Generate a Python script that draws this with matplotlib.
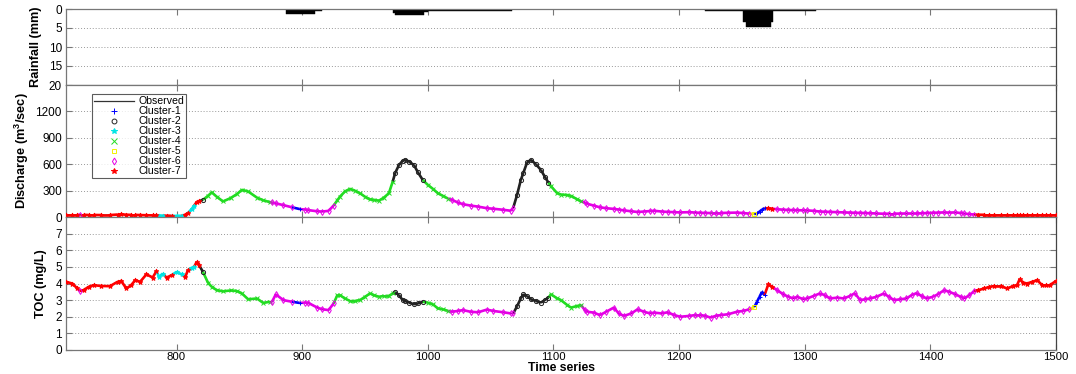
import matplotlib
matplotlib.use("Agg")
import matplotlib.pyplot as plt
from matplotlib.lines import Line2D
from matplotlib.collections import LineCollection
import numpy as np

plt.rcParams['font.family'] = ['Liberation Sans', 'DejaVu Sans']
plt.rcParams['mathtext.default'] = 'regular'

# ---------------- data ----------------
# rainfall blocks (start time, end time, depth mm)
rain_start = [887, 910, 972, 974, 997, 1000, 1221, 1251, 1253, 1273, 1275]
rain_end   = [910, 916, 974, 997, 1000, 1067, 1251, 1253, 1273, 1275, 1309]
rain_depth = [1.3, 0.4, 1.0, 1.7, 0.8, 0.4, 0.4, 3.5, 4.7, 3.5, 0.4]

time = [712, 717, 721, 723, 726, 730, 734, 740, 747, 753, 756, 760, 764, 767, 771, 776, 781, 784,
        786, 789, 792, 796, 800, 804, 807, 809, 812, 814, 816, 818, 821, 825, 828, 832, 837, 843,
        848, 852, 857, 864, 869, 874, 876, 879, 885, 892, 898, 902, 905, 912, 916, 921, 925, 928,
        930, 934, 938, 942, 946, 950, 954, 957, 961, 965, 969, 972, 974, 977, 980, 982, 985, 989,
        992, 996, 1000, 1004, 1008, 1012, 1016, 1019, 1024, 1028, 1034, 1040, 1047, 1052, 1060,
        1066, 1068, 1071, 1074, 1076, 1079, 1082, 1086, 1090, 1093, 1096, 1098, 1103, 1106, 1111,
        1114, 1119, 1122, 1125, 1127, 1132, 1137, 1142, 1148, 1152, 1156, 1162, 1167, 1172, 1177,
        1180, 1186, 1191, 1196, 1201, 1208, 1213, 1217, 1221, 1225, 1229, 1233, 1239, 1246, 1251,
        1256, 1260, 1262, 1264, 1266, 1268, 1271, 1274, 1278, 1283, 1287, 1291, 1294, 1299, 1302,
        1307, 1312, 1316, 1320, 1326, 1331, 1336, 1340, 1344, 1348, 1352, 1357, 1363, 1367, 1371,
        1376, 1381, 1385, 1389, 1393, 1397, 1402, 1406, 1411, 1415, 1420, 1424, 1427, 1431, 1435,
        1438, 1443, 1447, 1451, 1456, 1461, 1466, 1469, 1471, 1474, 1477, 1481, 1485, 1489, 1492,
        1495, 1500]

discharge = [25, 25, 25, 24, 24, 23, 23, 22, 22, 28, 30, 26, 24, 24, 22, 20, 18, 18,
             17, 16, 15, 14, 12, 15, 25, 45, 90, 130, 170, 180, 195, 240, 280, 230, 177, 215,
             260, 309, 290, 220, 190, 170, 165, 155, 135, 110, 90, 85, 78, 65, 62, 70, 130, 190,
             230, 290, 320, 300, 270, 230, 200, 195, 185, 220, 270, 400, 500, 590, 640, 650, 630, 590,
             510, 420, 365, 320, 270, 240, 210, 195, 165, 145, 130, 118, 100, 94, 82,
             71, 105, 250, 420, 500, 620, 650, 600, 535, 460, 390, 350, 270, 255, 250,
             240, 200, 177, 165, 150, 130, 110, 100, 92, 85, 75, 65, 57, 62, 68,
             71, 62, 58, 55, 52, 55, 50, 48, 46, 45, 45, 45, 48, 50, 45,
             38, 34, 40, 60, 85, 100, 98, 95, 88, 83, 80, 78, 77, 76, 75,
             70, 62, 60, 58, 55, 52, 50, 48, 47, 45, 43, 40, 37, 38, 38,
             39, 40, 40, 40, 42, 45, 48, 50, 52, 50, 52, 45, 40, 32, 28,
             26, 25, 25, 25, 25, 25, 25, 25, 25, 25, 25, 25, 25, 25, 25,
             25, 25]

toc = [4.1, 4.0, 3.7, 3.55, 3.6, 3.8, 3.9, 3.85, 3.84, 4.1, 4.15, 3.7, 3.9, 4.2, 4.1, 4.55, 4.36, 4.75,
       4.4, 4.6, 4.35, 4.5, 4.7, 4.55, 4.4, 4.8, 4.95, 5.0, 5.3, 5.1, 4.7, 4.05, 3.8, 3.6, 3.53, 3.58,
       3.55, 3.4, 3.05, 3.1, 2.83, 2.9, 2.9, 3.35, 3.0, 2.9, 2.83, 2.85, 2.83, 2.55, 2.45, 2.4, 2.8, 3.3,
       3.3, 3.1, 2.95, 2.95, 3.0, 3.2, 3.4, 3.3, 3.2, 3.25, 3.25, 3.4, 3.48, 3.3, 3.0, 2.95, 2.85, 2.75,
       2.8, 2.9, 2.85, 2.75, 2.5, 2.45, 2.35, 2.3, 2.35, 2.4, 2.3, 2.27, 2.43, 2.35, 2.27,
       2.2, 2.2, 2.63, 3.1, 3.35, 3.25, 3.05, 2.95, 2.85, 3.0, 3.15, 3.35, 3.1, 3.0, 2.7,
       2.55, 2.65, 2.7, 2.4, 2.3, 2.25, 2.1, 2.3, 2.55, 2.2, 2.05, 2.2, 2.45, 2.3, 2.2,
       2.25, 2.2, 2.27, 2.1, 2.0, 2.05, 2.1, 2.1, 2.05, 1.95, 2.05, 2.1, 2.15, 2.3, 2.35,
       2.45, 2.6, 2.9, 3.2, 3.5, 3.3, 3.95, 3.8, 3.6, 3.35, 3.2, 3.1, 3.2, 3.05, 3.1,
       3.25, 3.4, 3.3, 3.1, 3.15, 3.1, 3.25, 3.42, 3.0, 3.05, 3.1, 3.2, 3.4, 3.2, 3.0,
       3.05, 3.1, 3.3, 3.42, 3.25, 3.1, 3.2, 3.35, 3.6, 3.5, 3.35, 3.2, 3.1, 3.3, 3.55,
       3.6, 3.7, 3.8, 3.85, 3.85, 3.7, 3.85, 3.9, 4.25, 4.05, 4.0, 4.1, 4.2, 3.9, 3.9,
       3.9, 4.15]

cluster = [7, 7, 7, 6, 7, 7, 7, 7, 7, 7, 7, 7, 7, 7, 7, 7, 7, 7,
           3, 3, 7, 7, 3, 3, 7, 7, 3, 3, 7, 7, 2, 4, 4, 4, 4, 4,
           4, 4, 4, 4, 4, 4, 6, 6, 6, 6, 1, 6, 6, 6, 6, 6, 6, 4,
           4, 4, 4, 4, 4, 4, 4, 4, 4, 4, 4, 4, 2, 2, 2, 2, 2, 2,
           2, 2, 4, 4, 4, 4, 4, 6, 6, 6, 6, 6, 6, 6, 6,
           6, 6, 2, 2, 2, 2, 2, 2, 2, 2, 2, 4, 4, 4, 4,
           4, 4, 4, 6, 6, 6, 6, 6, 6, 6, 6, 6, 6, 6, 6,
           6, 6, 6, 6, 6, 6, 6, 6, 6, 6, 6, 6, 6, 6, 6,
           6, 5, 1, 1, 1, 1, 7, 7, 6, 6, 6, 6, 6, 6, 6,
           6, 6, 6, 6, 6, 6, 6, 6, 6, 6, 6, 6, 6, 6, 6,
           6, 6, 6, 6, 6, 6, 6, 6, 6, 6, 6, 6, 6, 6, 6,
           7, 7, 7, 7, 7, 7, 7, 7, 7, 7, 7, 7, 7, 7, 7,
           7, 7]

cluster_names = ['Cluster-1', 'Cluster-2', 'Cluster-3', 'Cluster-4', 'Cluster-5', 'Cluster-6', 'Cluster-7']

# ---------------- styles ----------------
cl_color = {1: '#0000ff', 2: '#222222', 3: '#00e5e5', 4: '#22dd22', 5: '#f2f200', 6: '#e600e6', 7: '#ff0000'}
cl_marker = {1: '+', 2: 'o', 3: '*', 4: 'x', 5: 's', 6: 'd', 7: '*'}

t = np.array(time, dtype=float)
Q = np.array(discharge, dtype=float)
C = np.array(toc, dtype=float)
K = np.array(cluster)

W, H = 1076, 374
fig = plt.figure(figsize=(W / 100, H / 100), dpi=100)
left, right = 66 / W, 1056 / W
def rect(top_px, bot_px):
    return [left, 1 - bot_px / H, right - left, (bot_px - top_px) / H]

ax_r = fig.add_axes(rect(9, 85))
ax_q = fig.add_axes(rect(85, 217))
ax_c = fig.add_axes(rect(217, 350))

spine_col = '#777777'
for ax in (ax_r, ax_q, ax_c):
    ax.set_xlim(712, 1500)
    ax.set_xticks([800, 900, 1000, 1100, 1200, 1300, 1400, 1500])
    ax.tick_params(direction='in', top=True, right=True, length=4, width=0.8,
                   color=spine_col, labelsize=8.5, pad=3)
    for s in ax.spines.values():
        s.set_color(spine_col)
        s.set_linewidth(0.9)
    ax.spines['right'].set_color('#444444')
    ax.yaxis.grid(True, linestyle=(0, (1, 2)), color='#999999', linewidth=0.7)
    ax.set_axisbelow(True)
ax_r.tick_params(labelbottom=False)
ax_q.tick_params(labelbottom=False)
ax_c.tick_params(axis='x', pad=1.5, labelsize=8.2)

# rainfall
widths = [e - s for s, e in zip(rain_start, rain_end)]
ax_r.bar(rain_start, rain_depth, width=widths, align='edge', color='black', edgecolor='black', linewidth=0.3)
ax_r.set_ylim(20, 0)
ax_r.set_yticks([0, 5, 10, 15, 20])

lab_font = dict(fontweight='bold', fontsize=9.2)
ax_r.set_ylabel('Rainfall (mm)', **lab_font, labelpad=5)


def draw_series(ax, y):
    ax.plot(t, y, color='#111111', lw=0.8, zorder=2)
    segs, cols = [], []
    for i in range(len(t) - 1):
        segs.append([(t[i], y[i]), (t[i + 1], y[i + 1])])
        cols.append(cl_color[K[i + 1]])
    ax.add_collection(LineCollection(segs, colors=cols, linewidths=1.9, zorder=3))
    for k in range(1, 8):
        m = K == k
        mk = cl_marker[k]
        if mk in ('o', 's', 'd'):
            ax.plot(t[m], y[m], linestyle='none', marker=mk, markersize=3,
                    markerfacecolor='none', markeredgecolor=cl_color[k], markeredgewidth=0.7, zorder=4)
        else:
            ax.plot(t[m], y[m], linestyle='none', marker=mk, markersize=3.5,
                    color=cl_color[k], markeredgewidth=0.7, zorder=4)


draw_series(ax_q, Q)
ax_q.set_ylim(0, 1500)
ax_q.set_yticks([0, 300, 600, 900, 1200])
ax_q.set_ylabel('Discharge (m$^3$/sec)', **lab_font, labelpad=3)

draw_series(ax_c, C)
ax_c.set_ylim(0, 8)
ax_c.set_yticks(range(8))
ax_c.set_ylabel('TOC (mg/L)', **lab_font, labelpad=6)
fig.text((left + right) / 2, 1 - 368 / H, 'Time series', fontweight='bold', fontsize=8.8,
         ha='center', va='center')

# legend
handles = [Line2D([], [], color='#333333', lw=0.9, label='Observed')]
for k in range(1, 8):
    mk = cl_marker[k]
    if mk in ('o', 's', 'd'):
        h = Line2D([], [], linestyle='none', marker=mk, markersize=3.5, markerfacecolor='none',
                   markeredgecolor=cl_color[k], markeredgewidth=0.7, label=cluster_names[k - 1])
    else:
        h = Line2D([], [], linestyle='none', marker=mk, markersize=4, color=cl_color[k],
                   markeredgewidth=0.7, label=cluster_names[k - 1])
    handles.append(h)
leg = ax_q.legend(handles=handles, loc='upper left', bbox_to_anchor=(0.026, 0.93),
                  fontsize=7.6, frameon=True, fancybox=False, edgecolor='#333333',
                  borderpad=0.2, labelspacing=0.0, handlelength=3.8, handletextpad=0.4,
                  borderaxespad=0)
leg.get_frame().set_linewidth(0.8)
leg.set_zorder(10)

fig.savefig('out.png', dpi=100)
